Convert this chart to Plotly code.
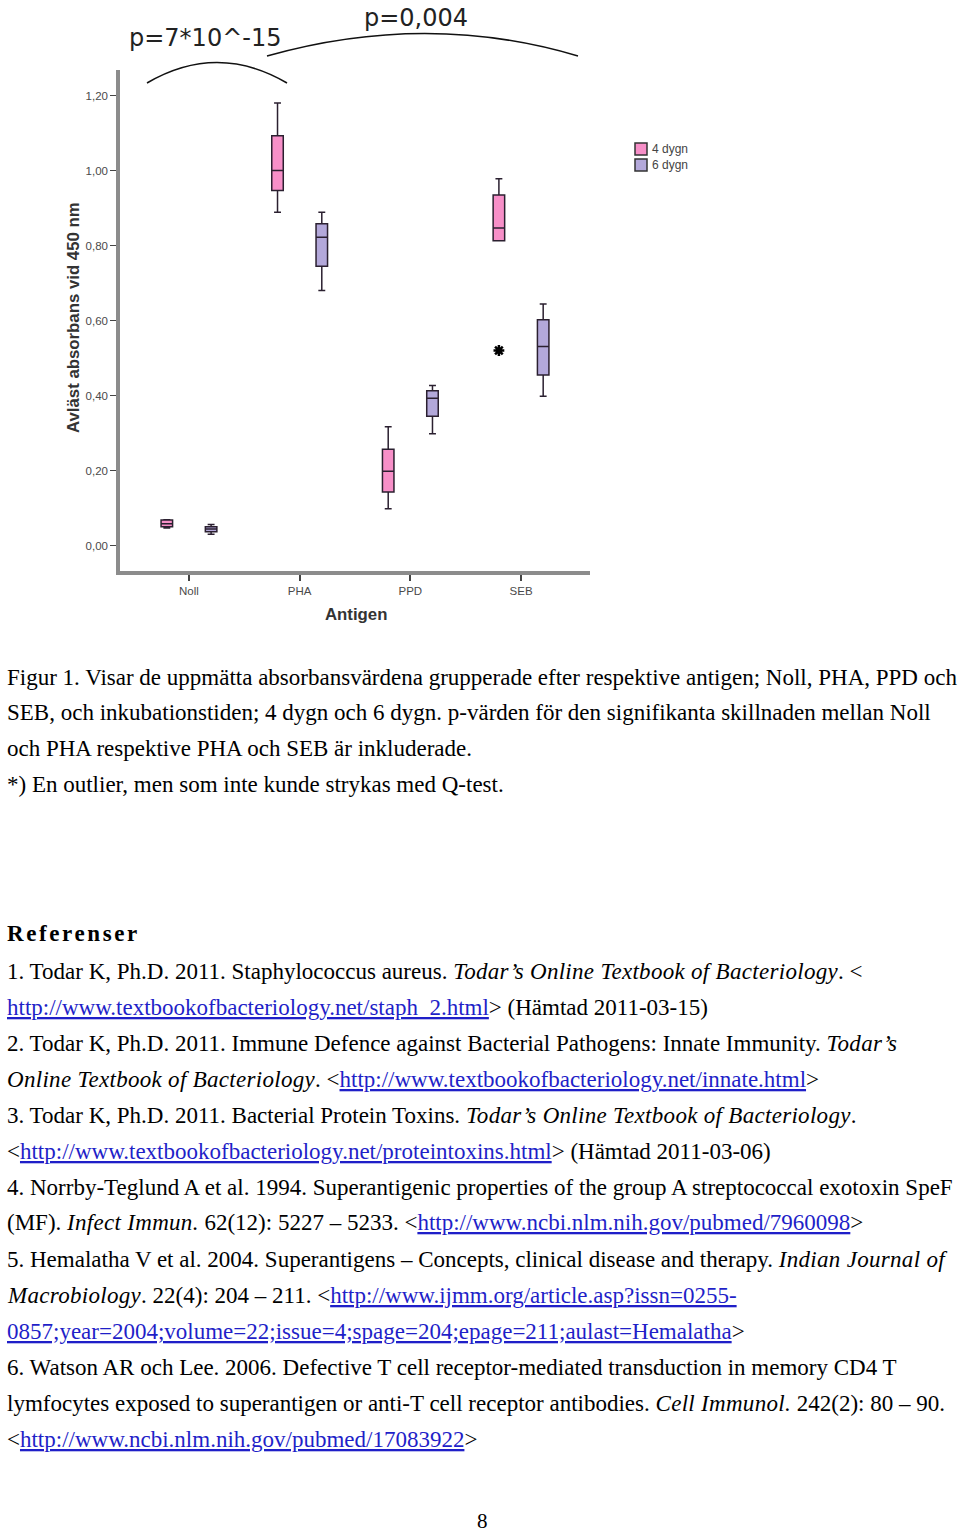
import plotly.graph_objects as go

# ---------------- data ----------------
categories = ["Noll", "PHA", "PPD", "SEB"]

d4_low = [0.047, 0.889, 0.098, 0.813]
d4_q1 = [0.050, 0.947, 0.143, 0.813]
d4_med = [0.058, 1.000, 0.198, 0.847]
d4_q3 = [0.068, 1.093, 0.257, 0.935]
d4_high = [0.069, 1.180, 0.317, 0.978]

d6_low = [0.030, 0.680, 0.298, 0.398]
d6_q1 = [0.037, 0.745, 0.345, 0.455]
d6_med = [0.044, 0.822, 0.393, 0.531]
d6_q3 = [0.050, 0.858, 0.413, 0.602]
d6_high = [0.056, 0.889, 0.427, 0.644]

outlier_cat = ["SEB"]
outlier_val = [0.52]

y_tickvals = [0.0, 0.2, 0.4, 0.6, 0.8, 1.0, 1.2]
y_ticktext = ["0,00", "0,20", "0,40", "0,60", "0,80", "1,00", "1,20"]

series_names = ["4 dygn", "6 dygn"]
p_labels = ["p=7*10^-15", "p=0,004"]

caption_lines = [
    "Figur 1. Visar de uppmätta absorbansvärdena grupperade efter respektive antigen; Noll, PHA, PPD och",
    "SEB, och inkubationstiden; 4 dygn och 6 dygn. p-värden för den signifikanta skillnaden mellan Noll",
    "och PHA respektive PHA och SEB är inkluderade.",
    "*) En outlier, men som inte kunde strykas med Q-test.",
]

# ---------------- layout geometry (pixels) ----------------
W, H = 960, 1535
L, R, T, B = 120, 590, 70, 571
PW, PH = R - L, B - T

def px(x):
    return (x - L) / PW

def py(y):
    return (B - y) / PH

PINK = "#f78fc8"
PURPLE = "#b3a8da"
EDGE = "#2b2030"

fig = go.Figure()
fig.add_trace(go.Box(
    x=categories, q1=d4_q1, median=d4_med, q3=d4_q3,
    lowerfence=d4_low, upperfence=d4_high,
    name=series_names[0], fillcolor=PINK,
    line=dict(color=EDGE, width=1.5), whiskerwidth=0.6,
    offsetgroup="4", showlegend=False, boxpoints=False,
))
fig.add_trace(go.Box(
    x=categories, q1=d6_q1, median=d6_med, q3=d6_q3,
    lowerfence=d6_low, upperfence=d6_high,
    name=series_names[1], fillcolor=PURPLE,
    line=dict(color=EDGE, width=1.5), whiskerwidth=0.6,
    offsetgroup="6", showlegend=False, boxpoints=False,
))
# outlier (belongs to 4 dygn, SEB)
fig.add_trace(go.Scatter(
    x=outlier_cat, y=outlier_val, mode="markers",
    marker=dict(symbol="asterisk-open", size=9, color="black",
                line=dict(color="black", width=2.5)),
    offsetgroup="4", orientation="v", showlegend=False,
))
fig.add_trace(go.Scatter(
    x=outlier_cat, y=[None], mode="markers",
    offsetgroup="6", orientation="v", showlegend=False,
))

axis_font = dict(family="Liberation Sans", size=11.5, color="#4a4a4a")
fig.update_layout(
    width=W, height=H, autosize=False,
    margin=dict(l=L, r=W - R, t=T, b=H - B, pad=0),
    paper_bgcolor="white", plot_bgcolor="white",
    boxmode="group", boxgap=0.2, boxgroupgap=0.74,
    scattermode="group", scattergap=0.2,
    xaxis=dict(
        type="category", categoryorder="array", categoryarray=categories,
        range=[-0.623, 3.623], showgrid=False, zeroline=False,
        showline=True, linecolor="#8c8c8c", linewidth=3.5,
        ticks="outside", ticklen=6, tickcolor="#444", tickwidth=1.5,
        tickfont=axis_font,
    ),
    yaxis=dict(
        range=[-0.068, 1.268], showgrid=False, zeroline=False,
        showline=True, linecolor="#8c8c8c", linewidth=3.5,
        ticks="outside", ticklen=6, tickcolor="#444", tickwidth=1,
        tickvals=y_tickvals, ticktext=y_ticktext, tickfont=axis_font,
    ),
    font=dict(family="Liberation Serif", size=23, color="black"),
)

ann = []
def note(x, y, text, font, xanchor="center", **kw):
    ann.append(dict(x=px(x), y=py(y), xref="paper", yref="paper", text=text,
                    xanchor=xanchor, yanchor="middle", showarrow=False,
                    font=font, **kw))

# axis titles
note(73, 318, "<b>Avläst absorbans vid 450 nm</b>",
     dict(family="Liberation Sans", size=16.8, color="#333"), textangle=-90)
note(356, 614, "<b>Antigen</b>", dict(family="Liberation Sans", size=16.8, color="#333"))
# p-values
note(205, 38, p_labels[0], dict(family="DejaVu Sans", size=24, color="#222"))
note(416, 18, p_labels[1], dict(family="DejaVu Sans", size=24, color="#222"))

shapes = []
def arc(x0, y0, cx, cy, x1, y1):
    return dict(type="path", xref="paper", yref="paper",
                path=f"M {px(x0)},{py(y0)} Q {px(cx)},{py(cy)} {px(x1)},{py(y1)}",
                line=dict(color="#111", width=1.5))
shapes.append(arc(147, 83, 217, 42, 287, 83))
shapes.append(arc(267, 56, 427, 11, 578, 56))

# legend (drawn)
for i, (nm, col) in enumerate(zip(series_names, [PINK, PURPLE])):
    y0 = 143 + i * 16
    shapes.append(dict(type="rect", xref="paper", yref="paper",
                       x0=px(635), x1=px(647), y0=py(y0), y1=py(y0 + 12),
                       fillcolor=col, line=dict(color="#333", width=1.5)))
    note(650, y0 + 6, nm, dict(family="Liberation Sans", size=12, color="#444"),
         xanchor="left")

# ---------------- page text ----------------
LINK = "#1f1fc8"
def link(s):
    return f"<span style='color:{LINK}'><u>{s}</u></span>"
def it(s):
    return f"<span style='letter-spacing:0.3px'><i>{s}</i></span>"

text_lines = [(y, s) for y, s in zip([677, 712, 748, 784], caption_lines)]
text_lines += [
    (933, "<span style='letter-spacing:2.6px'><b>Referenser</b></span>"),
    (971, "1. Todar K, Ph.D. 2011. Staphylococcus aureus. " + it("Todar’s Online Textbook of Bacteriology") + ". <"),
    (1007, link("http://www.textbookofbacteriology.net/staph_2.html") + "> (Hämtad 2011-03-15)"),
    (1043, "2. Todar K, Ph.D. 2011. Immune Defence against Bacterial Pathogens: Innate Immunity. " + it("Todar’s")),
    (1079, it("Online Textbook of Bacteriology") + ". <" + link("http://www.textbookofbacteriology.net/innate.html") + ">"),
    (1115, "3. Todar K, Ph.D. 2011. Bacterial Protein Toxins. " + it("Todar’s Online Textbook of Bacteriology") + "."),
    (1151, "<" + link("http://www.textbookofbacteriology.net/proteintoxins.html") + "> (Hämtad 2011-03-06)"),
    (1187, "4. Norrby-Teglund A et al. 1994. Superantigenic properties of the group A streptococcal exotoxin SpeF"),
    (1223, "(MF). " + it("Infect Immun.") + " 62(12): 5227 – 5233. <" + link("http://www.ncbi.nlm.nih.gov/pubmed/7960098") + ">"),
    (1259, "5. Hemalatha V et al. 2004. Superantigens – Concepts, clinical disease and therapy. " + it("Indian Journal of")),
    (1295, it("Macrobiology") + ". 22(4): 204 – 211. <" + link("http://www.ijmm.org/article.asp?issn=0255-")),
    (1331, link("0857;year=2004;volume=22;issue=4;spage=204;epage=211;aulast=Hemalatha") + ">"),
    (1367, "6. Watson AR och Lee. 2006. Defective T cell receptor-mediated transduction in memory CD4 T"),
    (1403, "lymfocytes exposed to superantigen or anti-T cell receptor antibodies. " + it("Cell Immunol.") + " 242(2): 80 – 90."),
    (1439, "<" + link("http://www.ncbi.nlm.nih.gov/pubmed/17083922") + ">"),
]
serif = dict(family="Liberation Serif", size=23, color="black")
for yc, s in text_lines:
    note(5, yc, s, serif, xanchor="left", align="left")
note(482, 1521, "8", dict(family="Liberation Serif", size=21, color="black"))

fig.update_layout(annotations=ann, shapes=shapes)
fig.write_html("out.html", config={"displayModeBar": False},
               post_script="document.body.style.margin='0';document.body.style.overflow='hidden';")
